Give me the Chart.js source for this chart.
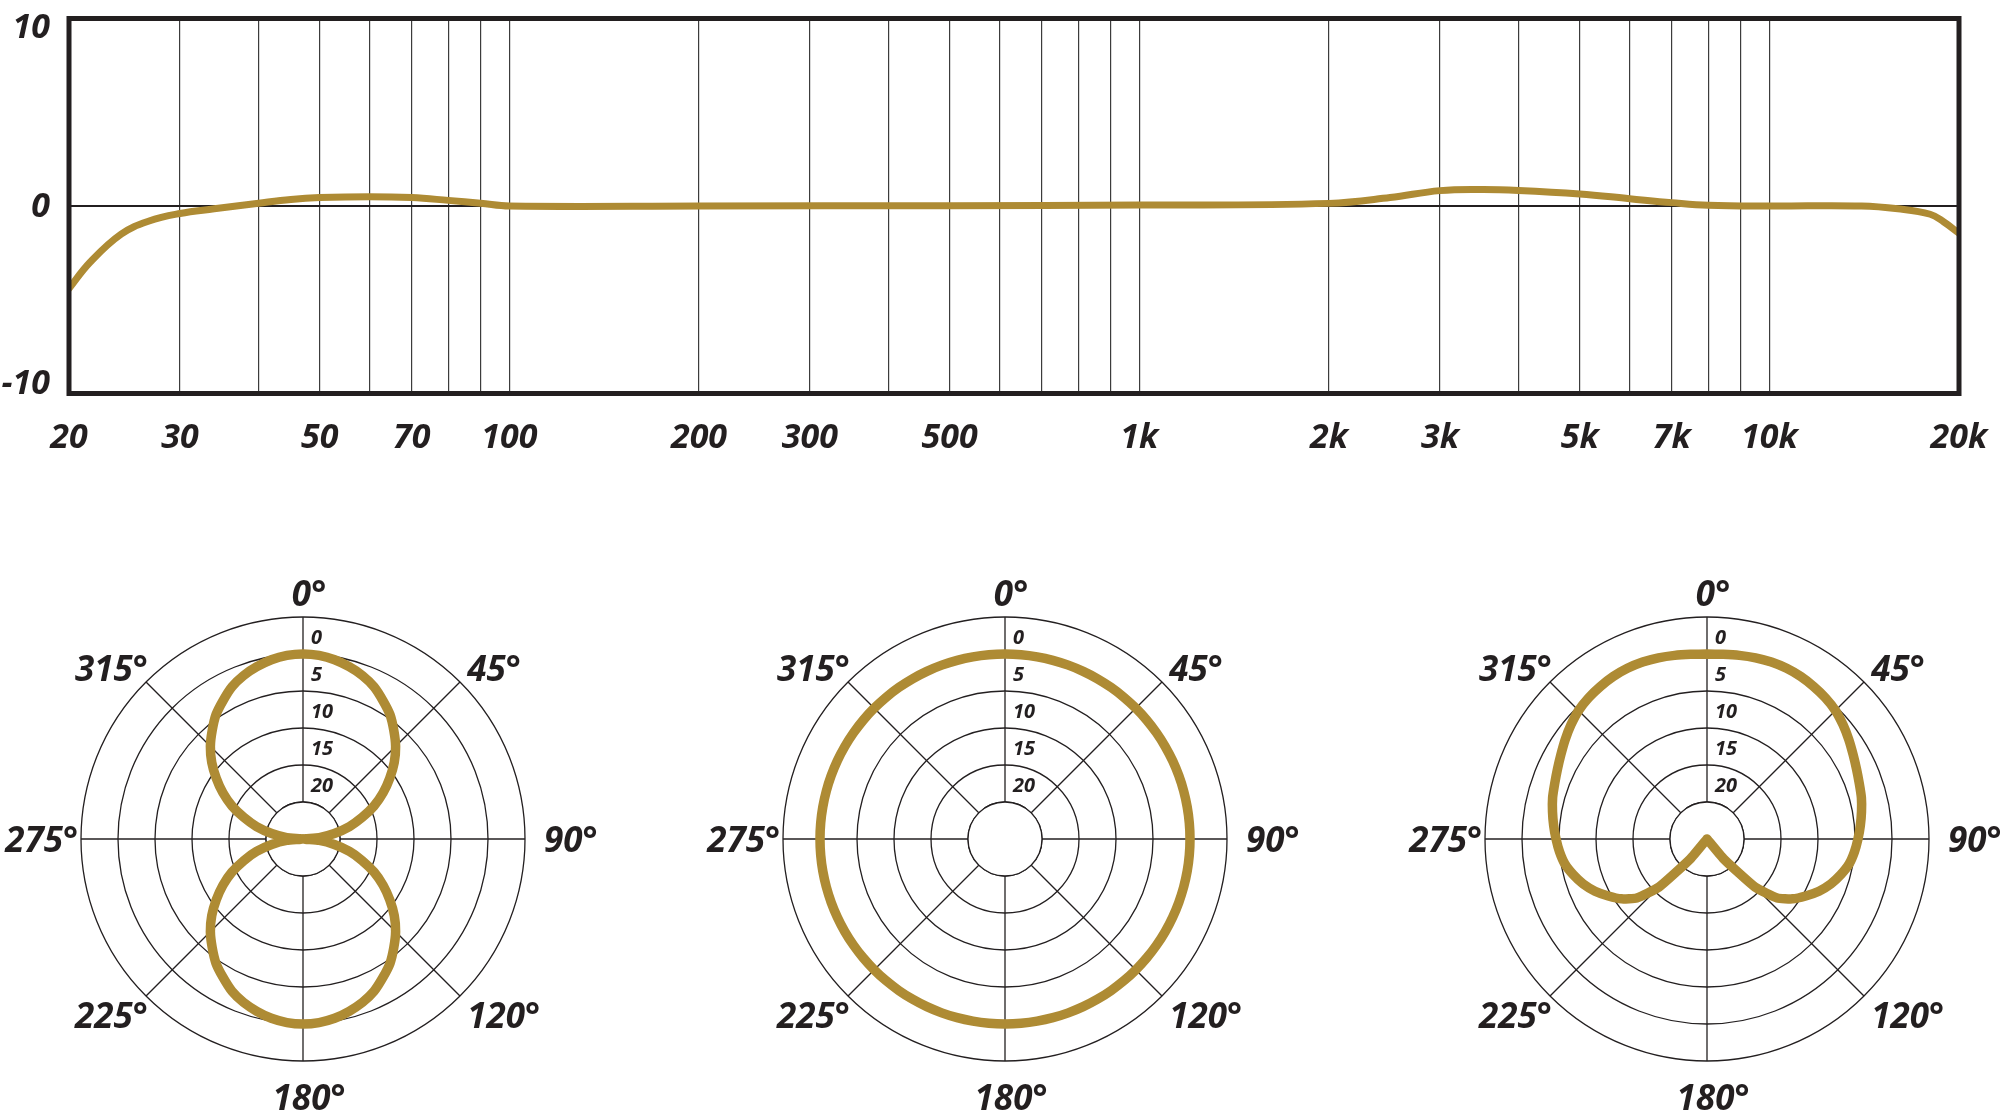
<!DOCTYPE html>
<html>
<head>
<meta charset="utf-8">
<script src="https://cdn.jsdelivr.net/npm/chart.js@4.4.1/dist/chart.umd.min.js"></script>
<style>
  html, body { margin: 0; padding: 0; background: #fff; overflow: hidden; }
  body { width: 2000px; height: 1113px; position: relative; }
  canvas { position: absolute; }
  #freq { left: 0; top: 0; }
  #polar1 { left: 1px; top: 537px; }
  #polar2 { left: 703px; top: 537px; }
  #polar3 { left: 1405px; top: 537px; }
</style>
</head>
<body>
<canvas id="freq" width="2000" height="480"></canvas>
<canvas id="polar1" width="604" height="604"></canvas>
<canvas id="polar2" width="604" height="604"></canvas>
<canvas id="polar3" width="604" height="604"></canvas>
<script>
const gold = '#ae8b34';
const ink = '#231f20';
const fontFamily = '"Open Sans", sans-serif';

// frequency response
const freqHz = [20, 21.6, 24.2, 26.8, 30, 34, 40, 45, 50, 60, 70, 80, 90, 100,
  200, 500, 1000, 2000, 2500, 3000, 3500, 4000, 5000, 6000, 7000, 8000, 10000,
  14000, 16000, 18000, 18900, 20000];
const responseDb = [-4.4, -3.0, -1.5, -0.8, -0.4, -0.15, 0.15, 0.35, 0.45, 0.5, 0.45, 0.3, 0.15, 0,
  0, 0.02, 0.05, 0.14, 0.45, 0.82, 0.88, 0.83, 0.64, 0.39, 0.18, 0.04, 0,
  0, -0.15, -0.44, -0.84, -1.45];

const freqTicks = [20, 30, 50, 70, 100, 200, 300, 500, 1000, 2000, 3000, 5000, 7000, 10000, 20000];
const freqTickLabels = ['20', '30', '50', '70', '100', '200', '300', '500', '1k', '2k', '3k', '5k', '7k', '10k', '20k'];
const freqGrid = [30, 40, 50, 60, 70, 80, 90, 100, 200, 300, 400, 500, 600, 700, 800, 900,
  1000, 2000, 3000, 4000, 5000, 6000, 7000, 8000, 9000, 10000];
const dbTicks = [-10, 0, 10];

// polar patterns, one value every 5 degrees (dB)
const polarAngles = Array.from({length: 72}, (_, i) => i * 5);
const spokeAngles = [0, 45, 90, 135, 180, 225, 270, 315];
const spokeLabels = ['0°', '45°', '90°', '120°', '180°', '225°', '275°', '315°'];
const ringDb = [0, -5, -10, -15, -20];
const ringLabels = ['0', '5', '10', '15', '20'];

const figure8Db = [
  0, -0.1, -0.4, -0.9, -1.5, -2.3, -3.4, -4.5, -5.9, -7.3, -8.9, -10.7, -12.5, -14.4, -16.5, -18.5, -20.7, -22.8,
  -25, -22.8, -20.7, -18.5, -16.5, -14.4, -12.5, -10.7, -8.9, -7.3, -5.9, -4.5, -3.4, -2.3, -1.5, -0.9, -0.4, -0.1,
  0, -0.1, -0.4, -0.9, -1.5, -2.3, -3.4, -4.5, -5.9, -7.3, -8.9, -10.7, -12.5, -14.4, -16.5, -18.5, -20.7, -22.8,
  -25, -22.8, -20.7, -18.5, -16.5, -14.4, -12.5, -10.7, -8.9, -7.3, -5.9, -4.5, -3.4, -2.3, -1.5, -0.9, -0.4, -0.1
];
const omniDb = [
  0, 0, 0, 0, 0, 0, 0, 0, 0, 0, 0, 0, 0, 0, 0, 0, 0, 0,
  0, 0, 0, 0, 0, 0, 0, 0, 0, 0, 0, 0, 0, 0, 0, 0, 0, 0,
  0, 0, 0, 0, 0, 0, 0, 0, 0, 0, 0, 0, 0, 0, 0, 0, 0, 0,
  0, 0, 0, 0, 0, 0, 0, 0, 0, 0, 0, 0, 0, 0, 0, 0, 0, 0
];
const cardioidDb = [
  0, 0.05, 0.2, 0.35, 0.45, 0.45, 0.35, 0.15, -0.1, -0.45, -1.0, -1.6, -2.2, -2.7, -3.1, -3.4, -3.8, -4.2,
  -4.6, -5.0, -5.5, -6.3, -7.2, -8.3, -9.6, -10.9, -12.6, -15.8, -21.5, -25, -25, -25, -25, -25, -25, -25,
  -25, -25, -25, -25, -25, -25, -25, -25, -21.5, -15.8, -12.6, -10.9, -9.6, -8.3, -7.2, -6.3, -5.5, -5.0,
  -4.6, -4.2, -3.8, -3.4, -3.1, -2.7, -2.2, -1.6, -1.0, -0.45, -0.1, 0.15, 0.35, 0.45, 0.45, 0.35, 0.2, 0.05
];

Chart.defaults.font.family = fontFamily;
Chart.defaults.color = ink;

// ---- frequency response ----
const frameAndDbLabels = {
  id: 'frameAndDbLabels',
  afterDraw(chart) {
    const {ctx, chartArea: a} = chart;
    const y = chart.scales.y;
    ctx.save();
    ctx.strokeStyle = ink;
    ctx.lineWidth = 5;
    ctx.strokeRect(a.left, a.top, a.right - a.left, a.bottom - a.top);
    ctx.fillStyle = ink;
    ctx.font = 'italic 700 34px ' + fontFamily;
    ctx.textAlign = 'right';
    ctx.textBaseline = 'middle';
    dbTicks.forEach(v => {
      const py = Math.min(Math.max(y.getPixelForValue(v), a.top + 9), a.bottom - 10);
      ctx.fillText(String(v), 50, py + 1);
    });
    ctx.restore();
  }
};

const allFreqTicks = [...new Set([...freqGrid, ...freqTicks])].sort((a, b) => a - b);

new Chart(document.getElementById('freq'), {
  type: 'line',
  data: {
    datasets: [{
      data: freqHz.map((f, i) => ({x: f, y: responseDb[i]})),
      borderColor: gold,
      borderWidth: 7,
      pointRadius: 0,
      tension: 0.4,
      borderCapStyle: 'round',
      borderJoinStyle: 'round',
      fill: false
    }]
  },
  options: {
    responsive: false,
    animation: false,
    devicePixelRatio: 1,
    events: [],
    layout: {padding: {top: 18.5, right: 41, left: 0, bottom: 0}},
    plugins: {legend: {display: false}, tooltip: {enabled: false}},
    scales: {
      x: {
        type: 'logarithmic',
        min: 20,
        max: 20000,
        afterBuildTicks: s => { s.ticks = allFreqTicks.map(v => ({value: v})); },
        afterFit: s => {
          s.height = 86.5;
          // edge labels may hang past the frame, as in the original
          s.paddingLeft = 0;
          s.paddingRight = 0;
        },
        border: {display: false},
        grid: {
          drawTicks: false,
          color: c => freqGrid.includes(c.tick && c.tick.value) ? '#3c3c3c' : 'transparent',
          lineWidth: 1.2
        },
        ticks: {
          autoSkip: false,
          maxRotation: 0,
          padding: 24,
          color: ink,
          font: {size: 34, style: 'italic', weight: 'bold'},
          callback: v => {
            const k = freqTicks.indexOf(v);
            return k < 0 ? '' : freqTickLabels[k];
          }
        }
      },
      y: {
        min: -10,
        max: 10,
        afterBuildTicks: s => { s.ticks = dbTicks.map(v => ({value: v})); },
        afterFit: s => { s.width = 69; },
        border: {display: false},
        grid: {
          drawTicks: false,
          color: c => (c.tick && c.tick.value === 0) ? ink : 'transparent',
          lineWidth: 2
        },
        ticks: {display: false}
      }
    }
  },
  plugins: [frameAndDbLabels]
});

// ---- polar plots ----
const angleLabels = polarAngles.map(a => {
  const k = spokeAngles.indexOf(a);
  return k < 0 ? '' : spokeLabels[k];
});

const polarDecor = {
  id: 'polarDecor',
  beforeDatasetsDraw(chart) {
    const r = chart.scales.r;
    const ctx = chart.ctx;
    const hole = r.getDistanceFromCenterForValue(-20);
    ctx.save();
    ctx.beginPath();
    ctx.arc(r.xCenter, r.yCenter, hole, 0, Math.PI * 2);
    ctx.fillStyle = '#fff';
    ctx.fill();
    ctx.strokeStyle = ink;
    ctx.lineWidth = 1.3;
    ctx.stroke();
    ctx.restore();
  },
  afterDraw(chart) {
    const r = chart.scales.r;
    const ctx = chart.ctx;
    ctx.save();
    ctx.fillStyle = ink;

    ctx.font = 'italic 700 20px ' + fontFamily;
    ctx.textAlign = 'left';
    ctx.textBaseline = 'middle';
    ringDb.forEach((v, k) => {
      const d = (r.getDistanceFromCenterForValue(v) + r.getDistanceFromCenterForValue(v + 5)) / 2;
      ctx.fillText(ringLabels[k], r.xCenter + 8, r.yCenter - d + 3);
    });

    const size = 35;
    const capH = size * 0.714;
    ctx.font = 'italic 700 ' + size + 'px ' + fontFamily;
    angleLabels.forEach((label, i) => {
      if (!label) return;
      const p0 = r.getPointPosition(i, r.drawingArea);
      const dx = p0.x - r.xCenter;
      const dy = p0.y - r.yCenter;
      const side = Math.abs(dx) < 1 ? 'v' : (Math.abs(dy) < 1 ? 'h' : 'd');
      const pad = side === 'd' ? 6 : side === 'v' ? (dy < 0 ? 14 : 21) : (dx > 0 ? 16 : 9);
      const p = r.getPointPosition(i, r.drawingArea + pad);
      ctx.textAlign = side === 'v' ? 'center' : (dx > 0 ? 'left' : 'right');
      let y = p.y + 3;
      if (side === 'h') {
        ctx.textBaseline = 'middle';
      } else {
        ctx.textBaseline = 'alphabetic';
        if (dy > 0) y += capH;
      }
      ctx.fillText(label, p.x + (dx > 1 ? 3 : 6), y);
    });
    ctx.restore();
  }
};

function polarChart(id, values) {
  return new Chart(document.getElementById(id), {
    type: 'radar',
    data: {
      labels: angleLabels,
      datasets: [{
        data: values,
        borderColor: gold,
        borderWidth: 9.5,
        pointRadius: 0,
        fill: false,
        tension: 0.15,
        borderJoinStyle: 'round',
        borderCapStyle: 'round'
      }]
    },
    options: {
      responsive: false,
      animation: false,
      devicePixelRatio: 1,
      events: [],
      layout: {padding: 80},
      plugins: {legend: {display: false}, tooltip: {enabled: false}},
      scales: {
        r: {
          min: -25,
          max: 5,
          startAngle: 0,
          ticks: {display: false, stepSize: 5},
          grid: {circular: true, color: ink, lineWidth: 1.3},
          angleLines: {
            color: ink,
            lineWidth: c => spokeAngles.includes(polarAngles[c.index]) ? 1.3 : 0
          },
          pointLabels: {display: false}
        }
      }
    },
    plugins: [polarDecor]
  });
}

polarChart('polar1', figure8Db);
polarChart('polar2', omniDb);
polarChart('polar3', cardioidDb);
</script>
</body>
</html>
